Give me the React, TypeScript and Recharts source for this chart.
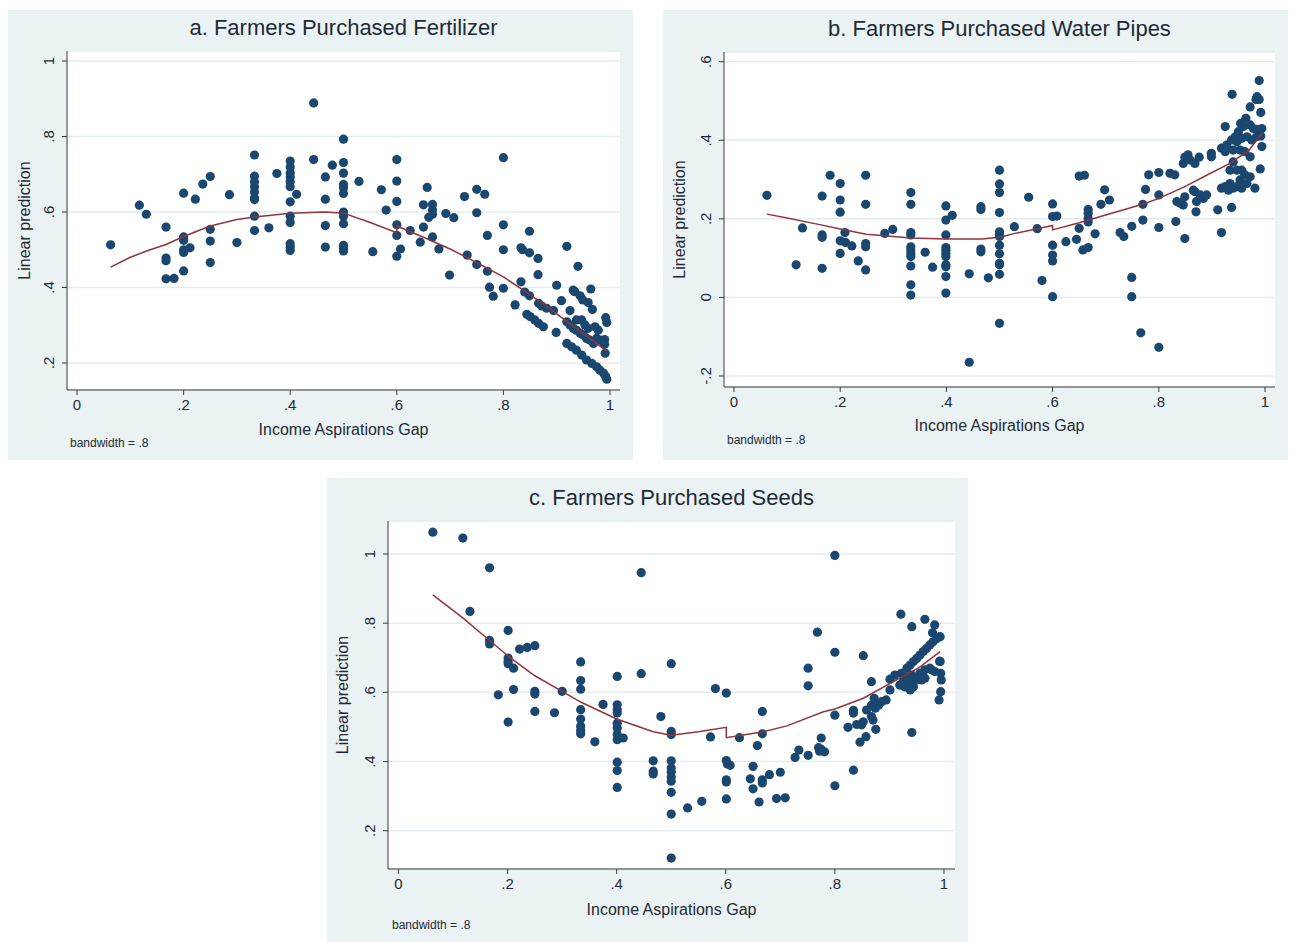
import { ScatterChart, Scatter, XAxis, YAxis, CartesianGrid } from "recharts";

type Pt = [number, number];

const xTicks = [0, 0.2, 0.4, 0.6, 0.8, 1];
const fertilizerYTicks = [0.2, 0.4, 0.6, 0.8, 1];
const pipesYTicks = [-0.2, 0, 0.2, 0.4, 0.6];
const seedsYTicks = [0.2, 0.4, 0.6, 0.8, 1];

// a. fertilizer – predicted values
const fertilizerPoints: Pt[] = [
  [0.063, 0.513], [0.117, 0.618], [0.13, 0.594],
  [0.167, 0.56], [0.167, 0.478], [0.167, 0.471], [0.167, 0.423], [0.182, 0.424],
  [0.2, 0.65], [0.2, 0.534], [0.2, 0.525], [0.2, 0.5], [0.2, 0.493], [0.2, 0.444], [0.212, 0.505],
  [0.222, 0.634], [0.236, 0.674],
  [0.25, 0.694], [0.25, 0.554], [0.25, 0.523], [0.25, 0.466],
  [0.286, 0.646], [0.3, 0.519],
  [0.333, 0.751], [0.333, 0.695], [0.333, 0.68], [0.333, 0.667], [0.333, 0.653], [0.333, 0.637],
  [0.333, 0.633], [0.333, 0.589], [0.333, 0.551],
  [0.36, 0.558], [0.375, 0.702],
  [0.4, 0.735], [0.4, 0.719], [0.4, 0.703], [0.4, 0.693], [0.4, 0.68], [0.4, 0.667], [0.4, 0.627],
  [0.4, 0.589], [0.4, 0.572], [0.4, 0.516], [0.4, 0.507], [0.4, 0.498],
  [0.412, 0.647], [0.444, 0.889], [0.444, 0.739],
  [0.466, 0.693], [0.466, 0.634], [0.466, 0.564], [0.466, 0.507], [0.479, 0.724],
  [0.5, 0.793], [0.5, 0.731], [0.5, 0.703], [0.5, 0.673], [0.5, 0.664], [0.5, 0.649], [0.5, 0.6],
  [0.5, 0.589], [0.5, 0.569], [0.5, 0.512], [0.5, 0.505], [0.5, 0.497],
  [0.529, 0.681], [0.555, 0.495], [0.571, 0.659], [0.58, 0.605],
  [0.6, 0.739], [0.6, 0.682], [0.6, 0.628], [0.6, 0.566], [0.6, 0.538], [0.6, 0.483], [0.607, 0.502],
  [0.625, 0.551], [0.644, 0.52], [0.65, 0.619], [0.65, 0.56], [0.657, 0.665], [0.66, 0.586],
  [0.667, 0.62], [0.667, 0.605], [0.667, 0.594], [0.667, 0.534],
  [0.679, 0.502], [0.692, 0.596], [0.699, 0.433], [0.707, 0.585], [0.727, 0.641], [0.732, 0.486],
  [0.75, 0.66], [0.75, 0.598], [0.75, 0.461],
  [0.765, 0.647], [0.77, 0.538], [0.77, 0.443], [0.774, 0.401], [0.781, 0.377],
  [0.8, 0.744], [0.8, 0.566], [0.8, 0.5], [0.8, 0.398],
  [0.822, 0.354], [0.833, 0.505], [0.836, 0.5], [0.833, 0.415], [0.84, 0.388],
  [0.849, 0.549], [0.849, 0.492], [0.865, 0.477], [0.865, 0.434],
  [0.849, 0.378], [0.866, 0.358], [0.872, 0.351], [0.881, 0.345], [0.894, 0.339],
  [0.844, 0.329], [0.85, 0.323], [0.859, 0.314], [0.866, 0.305], [0.875, 0.296],
  [0.899, 0.281], [0.9, 0.406], [0.909, 0.365], [0.919, 0.509], [0.925, 0.339],
  [0.931, 0.393], [0.934, 0.389], [0.94, 0.456], [0.944, 0.378], [0.949, 0.367], [0.959, 0.36],
  [0.964, 0.396], [0.967, 0.342],
  [0.919, 0.309], [0.925, 0.301], [0.931, 0.292], [0.937, 0.287], [0.944, 0.279], [0.95, 0.274],
  [0.956, 0.265], [0.962, 0.261], [0.969, 0.252], [0.975, 0.265], [0.981, 0.261], [0.987, 0.256],
  [0.937, 0.314], [0.947, 0.314], [0.953, 0.301], [0.959, 0.292], [0.972, 0.296], [0.978, 0.287],
  [0.992, 0.32], [0.994, 0.307], [0.99, 0.262], [0.99, 0.25], [0.991, 0.226],
  [0.919, 0.252], [0.928, 0.243], [0.937, 0.234], [0.947, 0.221], [0.956, 0.208], [0.966, 0.199],
  [0.975, 0.19], [0.981, 0.181], [0.988, 0.173], [0.992, 0.164], [0.994, 0.157],
];

const fertilizerFit: Pt[] = [
  [0.063, 0.454], [0.1, 0.48], [0.133, 0.498], [0.167, 0.514], [0.2, 0.535], [0.25, 0.563],
  [0.3, 0.58], [0.333, 0.587], [0.4, 0.597], [0.466, 0.6], [0.5, 0.597], [0.55, 0.572], [0.6, 0.545],
  [0.6, 0.563], [0.65, 0.533], [0.7, 0.502], [0.75, 0.466], [0.8, 0.428], [0.85, 0.381],
  [0.9, 0.33], [0.95, 0.278], [0.993, 0.232],
];

// b. water pipes
const pipesPoints: Pt[] = [
  [0.062, 0.26], [0.117, 0.083], [0.129, 0.177],
  [0.166, 0.258], [0.166, 0.159], [0.166, 0.153], [0.166, 0.074], [0.181, 0.311],
  [0.2, 0.29], [0.2, 0.248], [0.2, 0.217], [0.2, 0.144], [0.21, 0.14], [0.2, 0.112],
  [0.209, 0.165], [0.222, 0.131], [0.234, 0.093],
  [0.248, 0.311], [0.248, 0.237], [0.248, 0.137], [0.248, 0.129], [0.248, 0.07],
  [0.284, 0.163], [0.299, 0.173],
  [0.333, 0.267], [0.333, 0.237], [0.333, 0.165], [0.333, 0.159], [0.333, 0.129], [0.333, 0.121],
  [0.333, 0.112], [0.333, 0.104], [0.333, 0.08], [0.333, 0.032], [0.333, 0.006],
  [0.36, 0.115], [0.374, 0.077],
  [0.399, 0.233], [0.399, 0.197], [0.399, 0.159], [0.399, 0.127], [0.399, 0.12], [0.399, 0.112],
  [0.399, 0.104], [0.399, 0.083], [0.399, 0.078], [0.399, 0.053], [0.399, 0.011],
  [0.411, 0.209], [0.443, 0.06], [0.443, -0.165],
  [0.465, 0.231], [0.465, 0.224], [0.465, 0.123], [0.465, 0.116], [0.479, 0.05],
  [0.5, 0.324], [0.5, 0.289], [0.5, 0.267], [0.5, 0.216], [0.5, 0.167], [0.5, 0.161], [0.5, 0.155],
  [0.5, 0.133], [0.5, 0.111], [0.5, 0.087], [0.5, 0.083], [0.5, 0.059], [0.5, -0.066],
  [0.528, 0.18], [0.555, 0.255], [0.571, 0.175], [0.58, 0.043],
  [0.6, 0.238], [0.6, 0.206], [0.608, 0.207], [0.6, 0.133], [0.6, 0.108], [0.6, 0.093], [0.6, 0.002],
  [0.625, 0.142], [0.645, 0.148], [0.65, 0.176], [0.65, 0.309], [0.66, 0.311], [0.657, 0.121],
  [0.667, 0.224], [0.667, 0.214], [0.667, 0.201], [0.667, 0.192], [0.667, 0.127],
  [0.68, 0.162], [0.691, 0.237], [0.698, 0.274], [0.707, 0.248],
  [0.727, 0.165], [0.734, 0.155], [0.749, 0.181], [0.749, 0.051], [0.749, 0.002], [0.766, -0.09],
  [0.77, 0.237], [0.77, 0.197], [0.775, 0.275], [0.781, 0.312],
  [0.8, 0.318], [0.8, 0.261], [0.8, 0.178], [0.8, -0.127],
  [0.821, 0.316], [0.83, 0.312], [0.832, 0.193], [0.834, 0.244], [0.84, 0.24], [0.846, 0.235],
  [0.849, 0.256], [0.849, 0.15], [0.846, 0.341], [0.849, 0.357], [0.855, 0.363], [0.859, 0.35],
  [0.868, 0.341], [0.876, 0.357], [0.865, 0.273], [0.868, 0.269], [0.871, 0.244], [0.878, 0.261],
  [0.884, 0.252], [0.89, 0.261], [0.87, 0.218], [0.899, 0.367], [0.899, 0.358], [0.911, 0.223],
  [0.918, 0.165], [0.918, 0.38], [0.918, 0.278], [0.925, 0.435], [0.925, 0.371], [0.925, 0.282],
  [0.928, 0.388], [0.931, 0.273], [0.934, 0.324], [0.934, 0.29], [0.937, 0.401], [0.937, 0.229],
  [0.938, 0.517], [0.94, 0.375], [0.94, 0.345], [0.94, 0.278], [0.944, 0.409], [0.947, 0.396],
  [0.947, 0.324], [0.947, 0.282], [0.95, 0.422], [0.953, 0.375], [0.953, 0.299], [0.954, 0.443],
  [0.956, 0.405], [0.956, 0.324], [0.956, 0.278], [0.959, 0.435], [0.962, 0.371], [0.962, 0.312],
  [0.964, 0.456], [0.966, 0.409], [0.966, 0.29], [0.972, 0.485], [0.972, 0.439], [0.972, 0.358],
  [0.972, 0.307], [0.975, 0.401], [0.978, 0.43], [0.981, 0.278], [0.983, 0.504], [0.984, 0.409],
  [0.985, 0.511], [0.985, 0.428], [0.989, 0.552], [0.989, 0.504], [0.991, 0.327], [0.992, 0.471],
  [0.992, 0.411], [0.994, 0.43], [0.994, 0.384],
];

const pipesFit: Pt[] = [
  [0.062, 0.212], [0.1, 0.202], [0.166, 0.184], [0.2, 0.174], [0.249, 0.161], [0.3, 0.155],
  [0.332, 0.151], [0.399, 0.149], [0.467, 0.149], [0.5, 0.153], [0.529, 0.163], [0.6, 0.183],
  [0.6, 0.172], [0.65, 0.19], [0.7, 0.21], [0.771, 0.238], [0.8, 0.252], [0.849, 0.282],
  [0.9, 0.318], [0.934, 0.341], [0.97, 0.375], [0.994, 0.418],
];

// c. seeds
const seedsPoints: Pt[] = [
  [0.063, 1.063], [0.118, 1.046], [0.131, 0.834], [0.167, 0.96], [0.167, 0.75], [0.167, 0.74],
  [0.183, 0.593], [0.201, 0.779], [0.201, 0.699], [0.201, 0.69], [0.201, 0.683], [0.201, 0.514],
  [0.211, 0.67], [0.211, 0.608], [0.222, 0.725], [0.236, 0.73], [0.25, 0.735], [0.25, 0.603],
  [0.25, 0.595], [0.25, 0.545], [0.286, 0.541], [0.3, 0.603],
  [0.334, 0.688], [0.334, 0.634], [0.334, 0.609], [0.334, 0.55], [0.334, 0.523], [0.334, 0.502],
  [0.334, 0.49], [0.334, 0.48], [0.36, 0.457], [0.375, 0.565],
  [0.401, 0.646], [0.401, 0.564], [0.401, 0.55], [0.401, 0.54], [0.401, 0.511], [0.401, 0.497],
  [0.401, 0.478], [0.401, 0.463], [0.412, 0.468], [0.401, 0.398], [0.401, 0.374], [0.401, 0.325],
  [0.445, 0.946], [0.445, 0.654], [0.467, 0.402], [0.467, 0.372], [0.467, 0.364], [0.481, 0.53],
  [0.5, 0.683], [0.5, 0.487], [0.5, 0.478], [0.5, 0.402], [0.5, 0.381], [0.5, 0.37], [0.5, 0.355],
  [0.5, 0.343], [0.5, 0.311], [0.5, 0.248], [0.5, 0.121],
  [0.53, 0.266], [0.556, 0.285], [0.572, 0.471], [0.581, 0.611],
  [0.601, 0.598], [0.601, 0.403], [0.603, 0.393], [0.608, 0.389], [0.601, 0.347], [0.601, 0.341],
  [0.601, 0.292], [0.625, 0.469], [0.645, 0.35], [0.65, 0.386], [0.65, 0.321], [0.658, 0.446],
  [0.661, 0.283], [0.667, 0.545], [0.667, 0.48], [0.667, 0.347], [0.667, 0.338], [0.68, 0.362],
  [0.693, 0.293], [0.709, 0.295], [0.7, 0.369], [0.727, 0.412], [0.734, 0.433],
  [0.751, 0.67], [0.751, 0.619], [0.751, 0.418], [0.768, 0.774],
  [0.77, 0.44], [0.772, 0.43], [0.775, 0.435], [0.781, 0.428], [0.775, 0.468],
  [0.8, 0.996], [0.8, 0.716], [0.8, 0.534], [0.8, 0.33],
  [0.824, 0.499], [0.834, 0.548], [0.834, 0.54], [0.834, 0.375], [0.84, 0.507], [0.846, 0.456],
  [0.849, 0.506], [0.852, 0.706], [0.852, 0.515], [0.857, 0.472], [0.858, 0.549], [0.867, 0.631],
  [0.867, 0.563], [0.867, 0.53], [0.87, 0.52], [0.872, 0.583], [0.874, 0.554], [0.875, 0.493],
  [0.88, 0.563], [0.886, 0.573], [0.894, 0.578], [0.901, 0.638], [0.901, 0.607], [0.91, 0.65],
  [0.919, 0.621], [0.921, 0.826], [0.922, 0.655], [0.925, 0.631], [0.928, 0.616], [0.932, 0.67],
  [0.932, 0.645], [0.935, 0.626], [0.938, 0.679], [0.938, 0.607], [0.941, 0.79], [0.941, 0.65],
  [0.941, 0.484], [0.944, 0.689], [0.944, 0.616], [0.947, 0.641], [0.95, 0.698], [0.95, 0.636],
  [0.956, 0.708], [0.956, 0.655], [0.959, 0.636], [0.962, 0.718], [0.965, 0.811], [0.965, 0.665],
  [0.965, 0.641], [0.968, 0.727], [0.974, 0.737], [0.974, 0.67], [0.977, 0.665], [0.979, 0.772],
  [0.98, 0.746], [0.983, 0.795], [0.983, 0.66], [0.987, 0.756], [0.992, 0.69], [0.993, 0.761],
  [0.993, 0.689], [0.994, 0.655], [0.995, 0.636], [0.994, 0.602], [0.991, 0.578],
];

const seedsFit: Pt[] = [
  [0.063, 0.882], [0.119, 0.814], [0.167, 0.75], [0.201, 0.705], [0.25, 0.648], [0.3, 0.603],
  [0.334, 0.572], [0.4, 0.523], [0.467, 0.486], [0.5, 0.476], [0.55, 0.486], [0.601, 0.499],
  [0.601, 0.469], [0.669, 0.486], [0.712, 0.503], [0.779, 0.544], [0.8, 0.552], [0.852, 0.583],
  [0.913, 0.636], [0.955, 0.672], [0.993, 0.718],
];

const BG = "#eaf2f3";
const GRID = "#e3edef";
const AXIS = "#3a3a3a";
const DOT = "#1a476f";
const FIT = "#90353b";
const TEXT = "#1f2a36";
const FONT = "'Liberation Sans', Arial, sans-serif";

const fmt = (v: number) => {
  if (Math.abs(v) < 1e-9) return "0";
  return String(Number(v.toFixed(2))).replace("0.", ".");
};

const rows = (pts: Pt[]) => pts.map(([x, y]) => ({ x, y }));

type Panel = {
  title: string;
  points: Pt[];
  fit: Pt[];
  yTicks: number[];
  yDomain: [number, number];
  xDomain: [number, number];
  left: number;
  top: number;
  width: number;
  height: number;
  plot: { l: number; t: number; r: number; b: number };
  titleY: number;
  xTitleY: number;
  yTitleX: number;
  noteX: number;
  noteY: number;
};

const panels: Panel[] = [
  {
    title: "a. Farmers Purchased Fertilizer",
    points: fertilizerPoints,
    fit: fertilizerFit,
    yTicks: fertilizerYTicks,
    yDomain: [0.1285, 1.0265],
    xDomain: [-0.0188, 1.0188],
    left: 8, top: 10, width: 625, height: 450,
    plot: { l: 59, t: 41, r: 612, b: 380 },
    titleY: 25, xTitleY: 425, yTitleX: 22, noteX: 62, noteY: 437,
  },
  {
    title: "b. Farmers Purchased Water Pipes",
    points: pipesPoints,
    fit: pipesFit,
    yTicks: pipesYTicks,
    yDomain: [-0.228, 0.6247],
    xDomain: [-0.0188, 1.0188],
    left: 663, top: 10, width: 625, height: 450,
    plot: { l: 61, t: 42, r: 612, b: 377 },
    titleY: 26, xTitleY: 421, yTitleX: 22, noteX: 64, noteY: 434,
  },
  {
    title: "c. Farmers Purchased Seeds",
    points: seedsPoints,
    fit: seedsFit,
    yTicks: seedsYTicks,
    yDomain: [0.0893, 1.0954],
    xDomain: [-0.0192, 1.0202],
    left: 327, top: 478, width: 641, height: 464,
    plot: { l: 61, t: 43, r: 628, b: 391 },
    titleY: 27, xTitleY: 437, yTitleX: 21, noteX: 65, noteY: 451,
  },
];

const Y_AXIS_W = 30;
const X_AXIS_H = 30;

function PanelChart({ p }: { p: Panel }) {
  const cx = (p.plot.l + p.plot.r) / 2;
  const cy = (p.plot.t + p.plot.b) / 2;
  return (
    <div
      style={{
        position: "absolute",
        left: p.left,
        top: p.top,
        width: p.width,
        height: p.height,
        background: BG,
      }}
    >
      <ScatterChart
        width={p.width}
        height={p.height}
        margin={{
          top: p.plot.t,
          right: p.width - p.plot.r,
          bottom: p.height - p.plot.b - X_AXIS_H,
          left: p.plot.l - Y_AXIS_W,
        }}
      >
        <CartesianGrid vertical={false} stroke={GRID} strokeWidth={1.5} fill="#ffffff" fillOpacity={1} />
        <XAxis
          type="number"
          dataKey="x"
          domain={p.xDomain}
          ticks={xTicks}
          interval={0}
          allowDataOverflow
          height={X_AXIS_H}
          tickSize={5}
          stroke={AXIS}
          tick={(t: any) => (
            <text x={t.x} y={p.plot.b + 20} textAnchor="middle" fontSize={15} fontFamily={FONT} fill={TEXT}>
              {fmt(t.payload.value)}
            </text>
          )}
        />
        <YAxis
          type="number"
          dataKey="y"
          domain={p.yDomain}
          ticks={p.yTicks}
          interval={0}
          allowDataOverflow
          width={Y_AXIS_W}
          tickSize={5}
          stroke={AXIS}
          tick={(t: any) => {
            const x = p.plot.l - 13;
            return (
              <text
                x={x}
                y={t.y}
                transform={`rotate(-90 ${x} ${t.y})`}
                textAnchor="middle"
                fontSize={15}
                fontFamily={FONT}
                fill={TEXT}
              >
                {fmt(t.payload.value)}
              </text>
            );
          }}
        />
        <Scatter
          data={rows(p.points)}
          isAnimationActive={false}
          shape={(s: any) => <circle cx={s.cx} cy={s.cy} r={4.6} fill={DOT} />}
        />
        <Scatter
          data={rows(p.fit)}
          isAnimationActive={false}
          line={{ stroke: FIT, strokeWidth: 1.5 }}
          shape={() => <g />}
        />
      </ScatterChart>
      <svg
        width={p.width}
        height={p.height}
        style={{ position: "absolute", left: 0, top: 0, pointerEvents: "none" }}
        fontFamily={FONT}
        fill={TEXT}
      >
        <text x={cx} y={p.titleY} textAnchor="middle" fontSize={22}>
          {p.title}
        </text>
        <text x={cx} y={p.xTitleY} textAnchor="middle" fontSize={16}>
          Income Aspirations Gap
        </text>
        <text transform={`translate(${p.yTitleX},${cy}) rotate(-90)`} textAnchor="middle" fontSize={16}>
          Linear prediction
        </text>
        <text x={p.noteX} y={p.noteY} fontSize={12}>
          bandwidth = .8
        </text>
      </svg>
    </div>
  );
}

export default function App() {
  return (
    <div style={{ position: "absolute", left: 0, top: 0, width: 1293, height: 942, background: "#ffffff" }}>
      {panels.map((p) => (
        <PanelChart key={p.title} p={p} />
      ))}
    </div>
  );
}
